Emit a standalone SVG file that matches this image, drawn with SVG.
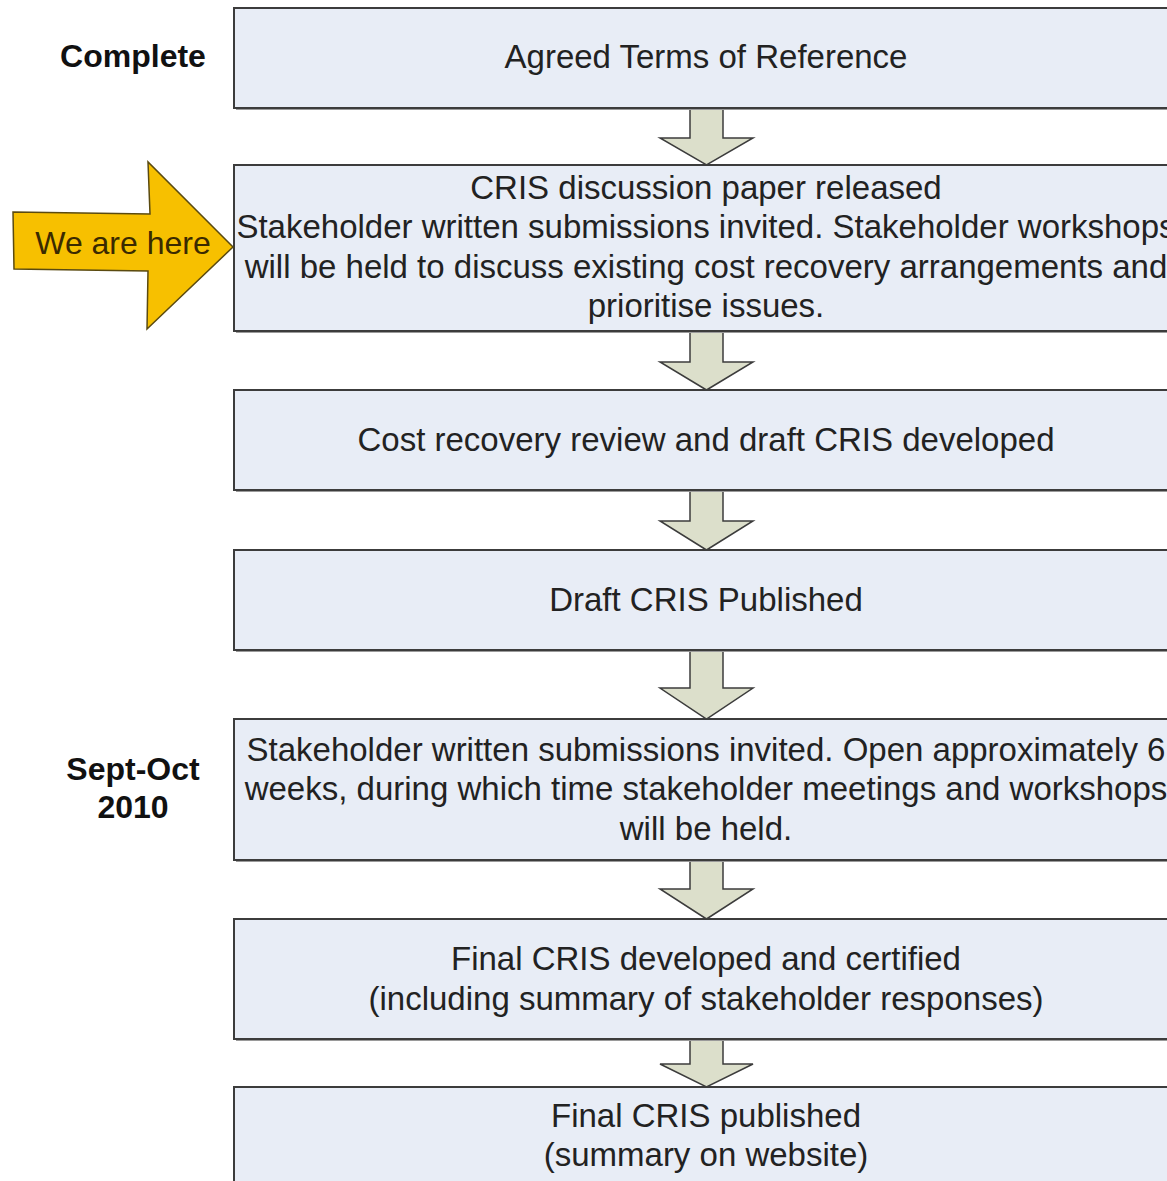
<svg xmlns="http://www.w3.org/2000/svg" width="1167" height="1181" viewBox="0 0 1167 1181">
<style>
.box{fill:#e8edf6;stroke:#3c3c3c;stroke-width:2}
.shadow{fill:#9a9a9a}
.t{font-family:"Liberation Sans",Arial,sans-serif;font-size:33px;fill:#222;text-anchor:middle}
.lbl{font-family:"Liberation Sans",Arial,sans-serif;font-size:32px;font-weight:bold;fill:#111;text-anchor:middle}
.dn{fill:#dcdfcb;stroke:#3c3c3c;stroke-width:1.5;stroke-linejoin:miter}
</style>
<rect width="1167" height="1181" fill="#fff"/>
<g id="connectors">
<path class="dn" d="M690,108 H723 V138 H753 L706.5,165 L660,138 H690 Z"/>
<path class="dn" d="M690,331 H723 V362 H753 L706.5,390 L660,362 H690 Z"/>
<path class="dn" d="M690,490 H723 V521 H753 L706.5,550 L660,521 H690 Z"/>
<path class="dn" d="M690,650 H723 V688 H753 L706.5,719 L660,688 H690 Z"/>
<path class="dn" d="M690,860 H723 V889 H753 L706.5,919 L660,889 H690 Z"/>
<path class="dn" d="M690,1039 H723 V1064 H753 L706.5,1087 L660,1064 H690 Z"/>
</g>
<g id="n1"><rect x="236" y="10" width="944" height="100" class="shadow"/><rect x="234" y="8" width="944" height="100" class="box"/><text class="t" x="706" y="68">Agreed Terms of Reference</text></g>
<g id="n2"><rect x="236" y="167" width="944" height="166" class="shadow"/><rect x="234" y="165" width="944" height="166" class="box"/>
<text class="t" x="706" y="199">CRIS discussion paper released</text>
<text class="t" x="706" y="238">Stakeholder written submissions invited. Stakeholder workshops</text>
<text class="t" x="706" y="278">will be held to discuss existing cost recovery arrangements and</text>
<text class="t" x="706" y="317">prioritise issues.</text></g>
<g id="n3"><rect x="236" y="392" width="944" height="100" class="shadow"/><rect x="234" y="390" width="944" height="100" class="box"/><text class="t" x="706" y="451">Cost recovery review and draft CRIS developed</text></g>
<g id="n4"><rect x="236" y="552" width="944" height="100" class="shadow"/><rect x="234" y="550" width="944" height="100" class="box"/><text class="t" x="706" y="611">Draft CRIS Published</text></g>
<g id="n5"><rect x="236" y="721" width="944" height="141" class="shadow"/><rect x="234" y="719" width="944" height="141" class="box"/>
<text class="t" x="706" y="761">Stakeholder written submissions invited. Open approximately 6</text>
<text class="t" x="706" y="800">weeks, during which time stakeholder meetings and workshops</text>
<text class="t" x="706" y="840">will be held.</text></g>
<g id="n6"><rect x="236" y="921" width="944" height="120" class="shadow"/><rect x="234" y="919" width="944" height="120" class="box"/>
<text class="t" x="706" y="970">Final CRIS developed and certified</text>
<text class="t" x="706" y="1010">(including summary of stakeholder responses)</text></g>
<g id="n7"><rect x="236" y="1089" width="944" height="100" class="shadow"/><rect x="234" y="1087" width="944" height="100" class="box"/>
<text class="t" x="706" y="1127">Final CRIS published</text>
<text class="t" x="706" y="1166">(summary on website)</text></g>
<g id="lbl-complete"><text class="lbl" x="133" y="67">Complete</text></g>
<g id="lbl-sept"><text class="lbl" x="133" y="780">Sept-Oct</text><text class="lbl" x="133" y="818">2010</text></g>
<g id="here"><path d="M13,212 L150,214 L148,162 L233,247 L147,329 L148,271 L14,269 Z" fill="#f7c000" stroke="#5a4a10" stroke-width="1.5"/>
<text x="123" y="254" font-family="Liberation Sans,Arial,sans-serif" font-size="32" fill="#3a2a00" text-anchor="middle">We are here</text></g>
</svg>
